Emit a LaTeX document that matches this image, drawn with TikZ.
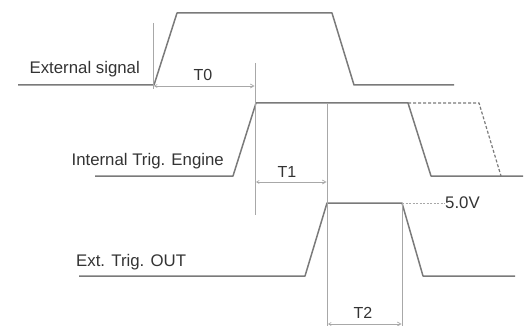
\documentclass[tikz,border=0pt]{standalone}
\usepackage{fontspec}
\setmainfont{Liberation Sans}
\usetikzlibrary{arrows.meta}
\definecolor{sig}{HTML}{7A7A7A}
\definecolor{guide}{HTML}{A8A8A8}
\begin{document}
\begin{tikzpicture}[x=1pt,y=-1pt,
  signal/.style={draw=sig,line width=1.5pt,line join=round},
  guideline/.style={draw=guide,line width=0.9pt},
  dim/.style={draw=guide,line width=0.7pt,{Straight Barb[length=2.5pt,width=3pt]}-{Straight Barb[length=3.5pt,width=4pt]}},
  dashsig/.style={draw=sig,line width=1.2pt,dash pattern=on 3pt off 2pt},
  lbl/.style={inner sep=0pt,text=black!80,font=\fontsize{16.8}{18}\selectfont},
  tlbl/.style={inner sep=0pt,text=black!80,font=\fontsize{16}{18}\selectfont}]
\useasboundingbox (0,0) rectangle (524,326);
% External signal
\coordinate (e0) at (18,85);
\coordinate (e1) at (154,85);
\coordinate (e2) at (177,13);
\coordinate (e3) at (332,13);
\coordinate (e4) at (354,85);
\coordinate (e5) at (454,85);
\draw[signal] (e0) -- (e1) -- (e2) -- (e3) -- (e4) -- (e5);
% Internal Trig. Engine
\coordinate (i0) at (95,176);
\coordinate (i1) at (233,176);
\coordinate (i2) at (256,103);
\coordinate (i3) at (408,103);
\coordinate (i4) at (431,176);
\coordinate (i5) at (523,176);
\coordinate (d1) at (479,103);
\coordinate (d2) at (501,176);
\draw[signal] (i0) -- (i1) -- (i2) -- (i3) -- (i4) -- (i5);
\draw[dashsig] (i3) -- (d1) -- (d2);
% Ext. Trig. OUT
\coordinate (o0) at (79,276);
\coordinate (o1) at (305,276);
\coordinate (o2) at (327,203);
\coordinate (o3) at (402,203);
\coordinate (o4) at (423,276);
\coordinate (o5) at (515,276);
\draw[signal] (o0) -- (o1) -- (o2) -- (o3) -- (o4) -- (o5);
% 5.0V
\node[lbl,anchor=west] (v5) at (445,203) {5.0V};
\draw[guide,line width=0.7pt,dash pattern=on 2pt off 1.5pt] (o3) -- (v5.west);
% guide lines
\coordinate (g0a) at (153,23);  \coordinate (g0b) at (153,89);
\coordinate (g1a) at (255,63);  \coordinate (g1b) at (255,215);
\coordinate (g2a) at (327,103); \coordinate (g2b) at (327,326);
\coordinate (g3a) at (402,203); \coordinate (g3b) at (402,326);
\draw[guideline] (g0a) -- (g0b);
\draw[guideline] (g1a) -- (g1b);
\draw[guideline] (g2a) -- (g2b);
\draw[guideline] (g3a) -- (g3b);
% dimension arrows
\coordinate (t0a) at (154,86); \coordinate (t0b) at (254.5,86);
\coordinate (t1a) at (256,182); \coordinate (t1b) at (326.5,182);
\coordinate (t2a) at (328,324); \coordinate (t2b) at (401.5,324);
\draw[dim] (t0a) -- (t0b);
\draw[dim] (t1a) -- (t1b);
\draw[dim] (t2a) -- (t2b);
\node[tlbl] (T0) at (203,75) {T0};
\node[tlbl] (T1) at (287,172) {T1};
\node[tlbl] (T2) at (363,313) {T2};
% labels
\node[lbl,anchor=east] (ext) at (140,69) {External signal};
\node[lbl,anchor=east] (int) at (224,161) {Internal Trig. Engine};
\node[lbl,anchor=west] (out) at (76,262) {Ext. Trig. OUT};
\end{tikzpicture}
\end{document}
